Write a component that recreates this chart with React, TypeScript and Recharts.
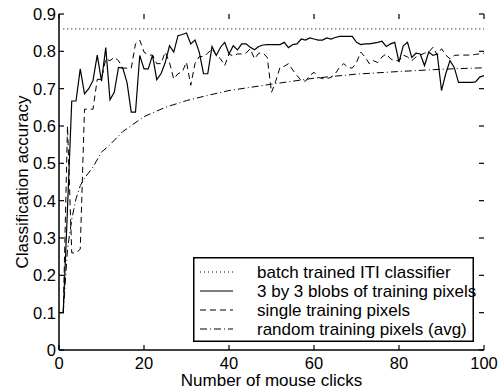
import { LineChart, Line, XAxis, YAxis, Legend } from 'recharts';

// x positions (number of mouse clicks)
const clicks = Array.from({ length: 101 }, (_, i) => i);

const batchX = [1, 100];
const batchAcc = [0.86, 0.86];

// 3 by 3 blobs, clicks 0..100
const blobAcc = [
  0.1, 0.1, 0.38, 0.667, 0.667, 0.753, 0.686, 0.7, 0.722, 0.79,
  0.72, 0.81, 0.67, 0.69, 0.757, 0.755, 0.717, 0.637, 0.637, 0.789,
  0.753, 0.753, 0.79, 0.724, 0.74, 0.77, 0.815, 0.798, 0.842, 0.845,
  0.849, 0.82, 0.83, 0.798, 0.74, 0.74, 0.813, 0.789, 0.811, 0.824,
  0.793, 0.815, 0.804, 0.82, 0.82, 0.811, 0.804, 0.813, 0.817, 0.818,
  0.818, 0.818, 0.818, 0.824, 0.81, 0.818, 0.82, 0.833, 0.83, 0.836,
  0.833, 0.83, 0.83, 0.836, 0.833, 0.837, 0.84, 0.84, 0.84, 0.84,
  0.824, 0.818, 0.82, 0.82, 0.822, 0.824, 0.827, 0.813, 0.82, 0.824,
  0.771, 0.815, 0.824, 0.784, 0.795, 0.793, 0.762, 0.798, 0.789, 0.793,
  0.695, 0.74, 0.775, 0.757, 0.717, 0.717, 0.717, 0.717, 0.718, 0.731,
  0.735,
];

// single training pixels, clicks 1..100
const singleAcc = [
  0.1, 0.6, 0.26, 0.26, 0.27, 0.645, 0.645, 0.645, 0.725, 0.725,
  0.78, 0.775, 0.784, 0.775, 0.755, 0.755, 0.755, 0.82, 0.83, 0.798,
  0.79, 0.79, 0.767, 0.767, 0.798, 0.77, 0.726, 0.74, 0.745, 0.771,
  0.709, 0.767, 0.786, 0.786, 0.795, 0.807, 0.79, 0.78, 0.762, 0.793,
  0.787, 0.793, 0.793, 0.795, 0.807, 0.78, 0.795, 0.795, 0.784, 0.69,
  0.72, 0.757, 0.76, 0.767, 0.75, 0.735, 0.722, 0.72, 0.735, 0.744,
  0.73, 0.727, 0.727, 0.73, 0.74, 0.757, 0.767, 0.757, 0.755, 0.77,
  0.798, 0.785, 0.767, 0.775, 0.77, 0.785, 0.793, 0.78, 0.775, 0.775,
  0.79, 0.785, 0.775, 0.785, 0.79, 0.795, 0.798, 0.811, 0.79, 0.807,
  0.79, 0.78, 0.789, 0.79, 0.79, 0.79, 0.79, 0.792, 0.793, 0.795,
];

// random training pixels (avg)
const randomX = [1, 2, 3, 4, 5, 6, 8, 10, 12, 15, 20, 25, 30, 35, 40, 50, 60, 70, 80, 90, 100];
const randomAcc = [
  0.1, 0.27, 0.35, 0.405, 0.44, 0.46, 0.49, 0.53, 0.55, 0.585, 0.625,
  0.65, 0.668, 0.682, 0.695, 0.712, 0.728, 0.739, 0.746, 0.752, 0.756,
];

const xTicks = [0, 20, 40, 60, 80, 100];
const yTicks = [0, 0.1, 0.2, 0.3, 0.4, 0.5, 0.6, 0.7, 0.8, 0.9];

const seriesNames = [
  'batch trained ITI classifier',
  '3 by 3 blobs of training pixels',
  'single training pixels',
  'random training pixels (avg)',
];
const seriesDash = ['1 3', undefined, '6 4', '7 3 1 3'];

const toPoints = (xs: number[], ys: number[]) => ys.map((y, i) => ({ x: xs[i], y }));

const batchData = toPoints(batchX, batchAcc);
const blobData = toPoints(clicks, blobAcc);
const singleData = toPoints(clicks.slice(1), singleAcc);
const randomData = toPoints(randomX, randomAcc);

const FONT = '"Liberation Sans", Arial, Helvetica, sans-serif';
const W = 503;
const H = 391;
const MARGIN = { top: 14, right: 19, bottom: 0, left: 0 };
const PLOT_TOP = MARGIN.top;
const PLOT_RIGHT = W - MARGIN.right;
const TICK_LEN = 5;

// ticks point into the plot on all four sides, matlab style
const BottomTick = (p: any) => (
  <g>
    <line x1={p.x} x2={p.x} y1={p.y - 7} y2={p.y - 7 - TICK_LEN} stroke="#000" strokeWidth={1.2} />
    <line x1={p.x} x2={p.x} y1={PLOT_TOP} y2={PLOT_TOP + TICK_LEN} stroke="#000" strokeWidth={1.2} />
    <text x={p.x} y={p.y} dy="0.71em" textAnchor="middle" fontSize={16.5} fontFamily={FONT} fill="#000">
      {p.payload.value}
    </text>
  </g>
);

const LeftTick = (p: any) => (
  <g>
    <line x1={p.x + 3} x2={p.x + 3 + TICK_LEN} y1={p.y} y2={p.y} stroke="#000" strokeWidth={1.2} />
    <line x1={PLOT_RIGHT} x2={PLOT_RIGHT - TICK_LEN} y1={p.y} y2={p.y} stroke="#000" strokeWidth={1.2} />
    <text x={p.x} y={p.y} dy="0.36em" textAnchor="end" fontSize={16.5} fontFamily={FONT} fill="#000">
      {p.payload.value === 0 ? '0' : Number(p.payload.value).toFixed(1)}
    </text>
  </g>
);

function LegendBox() {
  return (
    <svg width={281} height={85} style={{ overflow: 'visible', display: 'block' }}>
      <rect x={0.75} y={0.75} width={279.5} height={83.5} fill="#fff" stroke="#000" strokeWidth={1.5} />
      {seriesNames.map((name, i) => {
        const cy = 15 + i * 19;
        return (
          <g key={name}>
            <line x1={7} x2={40} y1={cy} y2={cy} stroke="#000" strokeWidth={1} strokeDasharray={seriesDash[i]} />
            <text x={64} y={cy + 6} fontSize={17} fontFamily={FONT} fill="#000">
              {name}
            </text>
          </g>
        );
      })}
    </svg>
  );
}

const axisLine = { stroke: '#000', strokeWidth: 1.5 };

export default function App() {
  return (
    <div style={{ position: 'absolute', left: 0, top: 0, background: '#fff', fontFamily: FONT }}>
      <LineChart width={W} height={H} margin={MARGIN}>
        <XAxis
          dataKey="x"
          type="number"
          domain={[0, 100]}
          ticks={xTicks}
          interval={0}
          height={41}
          allowDataOverflow
          axisLine={axisLine}
          tickLine={false}
          tickSize={0}
          tickMargin={7}
          tick={BottomTick}
          label={{
            content: (props: any) => {
              const vb = props.viewBox;
              return (
                <text x={vb.x + vb.width / 2} y={386} textAnchor="middle" fontSize={17} fontFamily={FONT} fill="#000">
                  Number of mouse clicks
                </text>
              );
            },
          }}
        />
        <XAxis
          xAxisId="top"
          orientation="top"
          type="number"
          domain={[0, 100]}
          height={0}
          allowDataOverflow
          axisLine={axisLine}
          tickLine={false}
          tick={false}
        />
        <YAxis
          type="number"
          domain={[0, 0.9]}
          ticks={yTicks}
          interval={0}
          width={59}
          allowDataOverflow
          axisLine={axisLine}
          tickLine={false}
          tickSize={0}
          tickMargin={3}
          tick={LeftTick}
          label={{
            content: (props: any) => {
              const vb = props.viewBox;
              const cx = 22;
              const cy = vb.y + vb.height / 2;
              return (
                <text
                  x={cx}
                  y={cy}
                  transform={`rotate(-90, ${cx}, ${cy})`}
                  textAnchor="middle"
                  dominantBaseline="central"
                  fontSize={17}
                  fontFamily={FONT}
                  fill="#000"
                >
                  Classification accuracy
                </text>
              );
            },
          }}
        />
        <YAxis
          yAxisId="right"
          orientation="right"
          type="number"
          domain={[0, 0.9]}
          width={0}
          allowDataOverflow
          axisLine={axisLine}
          tickLine={false}
          tick={false}
        />
        <Line data={batchData} dataKey="y" stroke="#000" strokeWidth={1} strokeDasharray="1 3" dot={false} isAnimationActive={false} />
        <Line data={blobData} dataKey="y" stroke="#000" strokeWidth={1.2} dot={false} isAnimationActive={false} />
        <Line data={singleData} dataKey="y" stroke="#000" strokeWidth={1} strokeDasharray="6 4" dot={false} isAnimationActive={false} />
        <Line data={randomData} dataKey="y" stroke="#000" strokeWidth={1} strokeDasharray="7 3 1 3" dot={false} isAnimationActive={false} />
        <Legend
          layout="horizontal"
          verticalAlign="middle"
          align="center"
          content={() => <LegendBox />}
          wrapperStyle={{ left: 193, top: 257, width: 281, height: 85 }}
        />
      </LineChart>
    </div>
  );
}
